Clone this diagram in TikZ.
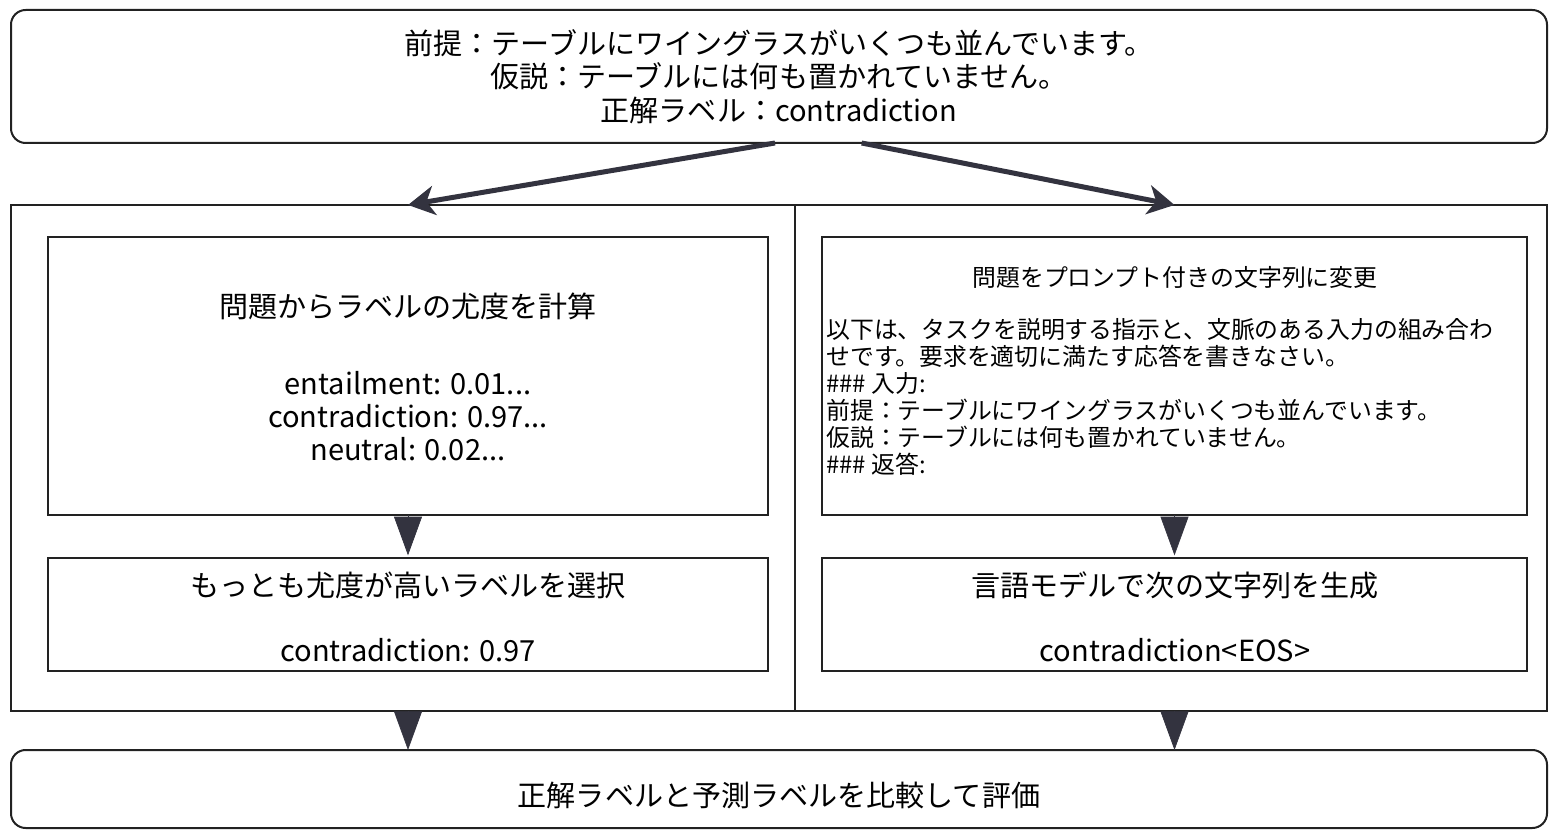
\documentclass[tikz,border=0pt]{standalone}
\usepackage{fontspec}
\setmainfont{Noto Sans CJK JP}
\usetikzlibrary{arrows.meta,calc}
\definecolor{ln}{HTML}{222222}
\definecolor{ar}{HTML}{33333F}
\newcommand{\pxbox}[6]{\node[box,#6,minimum width={(#4-#2)*0.75pt},minimum height={(#5-#3)*0.75pt}] (#1) at (#2,#3) {};}
\begin{document}
\begin{tikzpicture}[x=0.75pt,y=-0.75pt,
  box/.style={draw=ln, line width=1.5pt, inner sep=0pt, outer sep=0pt, anchor=north west},
  big/.style={font=\fontsize{21.8pt}{25pt}\selectfont, align=center, inner sep=0pt},
  small/.style={font=\fontsize{17.9pt}{20.25pt}\selectfont, inner sep=0pt},
  fork/.style={draw=ar, line width=3.75pt, -{Stealth[length=20pt,width=22pt,inset=6pt]}},
  drop/.style={draw=ar, fill=ar, line width=0.5pt, -{Triangle[length=29pt,width=21pt]}}]
\useasboundingbox (0,0) rectangle (1549,830);
\pxbox{top}{11}{10}{1547}{143}{rounded corners=11pt}
\pxbox{contL}{11}{205}{795}{711}{}
\pxbox{contR}{795}{205}{1547}{711}{}
\pxbox{lb1}{48}{237}{768}{515}{}
\pxbox{lb2}{48}{558}{768}{671}{}
\pxbox{rb1}{822}{237}{1527}{515}{}
\pxbox{rb2}{822}{558}{1527}{671}{}
\pxbox{bot}{11}{750}{1547}{828}{rounded corners=11pt}
% texts
\node[big] (ttop) at (top.center) {前提：テーブルにワイングラスがいくつも並んでいます。\\仮説：テーブルには何も置かれていません。\\正解ラベル：contradiction};
\node[big] (l1t) at (408,306) {問題からラベルの尤度を計算};
\node[big] (l1v) at (408,416) {entailment: 0.01...\\contradiction: 0.97...\\neutral: 0.02...};
\node[big] (l2t) at (408,585) {もっとも尤度が高いラベルを選択};
\node[big] (l2v) at (408,650) {contradiction: 0.97};
\node[small] (r1t) at (1175,277) {問題をプロンプト付きの文字列に変更};
\node[small, align=left, anchor=west] (r1v) at (826,396.5) {以下は、タスクを説明する指示と、文脈のある入力の組み合わ\\せです。要求を適切に満たす応答を書きなさい。\\\#\#\# 入力:\\前提：テーブルにワイングラスがいくつも並んでいます。\\仮説：テーブルには何も置かれていません。\\\#\#\# 返答:};
\node[big] (r2t) at (1175,585) {言語モデルで次の文字列を生成};
\node[big] (r2v) at (1175,650) {contradiction<EOS>};
\node[big] (tbot) at (779,795) {正解ラベルと予測ラベルを比較して評価};
% connectors
\draw[fork] ([xshift=-3pt]top.south) -- (contL.north -| lb1.north);
\draw[fork] ([xshift=62pt]top.south) -- (contR.north -| rb1.north);
\draw[drop, shorten >=2pt] (lb1.south) -- (lb2.north);
\draw[drop, shorten >=2pt] (rb1.south) -- (rb2.north);
\draw[drop] (contL.south -| lb1.south) -- (bot.north -| lb1.south);
\draw[drop] (contR.south -| rb1.south) -- (bot.north -| rb1.south);
\end{tikzpicture}
\end{document}
